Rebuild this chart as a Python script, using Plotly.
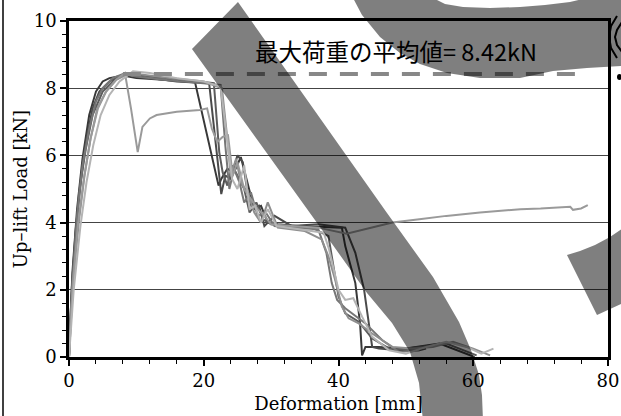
import plotly.graph_objects as go

# ---------------- data ----------------
x_s1 = [0, 0.5, 1.2, 2, 3, 4, 5, 6, 8, 10, 14, 18, 18.7, 22.2, 22.6, 23.5, 24.5, 25.5, 26.5, 27.5, 28.5, 29.5, 31, 34, 37, 40.5, 41, 42.5, 43.2, 43.4, 43.5, 44, 46, 50, 55, 60.2]
y_s1 = [0, 2.5, 4.4, 5.9, 7.2, 7.9, 8.2, 8.3, 8.38, 8.3, 8.25, 8.2, 8.18, 5.1, 5.3, 5.6, 5.5, 5.95, 5.2, 4.4, 4.5, 4.0, 3.95, 3.9, 3.88, 3.85, 3.3, 2.2, 1.0, 0.1, 0.05, 0.3, 0.3, 0.25, 0.4, 0.0]

x_s2 = [0, 0.4, 1, 1.8, 2.5, 3.5, 4.5, 6, 7.5, 9, 12, 16, 20.8, 22.6, 23.2, 24, 25, 25.8, 26.5, 27.2, 28.2, 29, 30.5, 33, 37, 41, 42.5, 43.8, 44.5, 45, 46, 49, 52, 53]
y_s2 = [0, 2, 3.8, 5.3, 6.4, 7.4, 7.9, 8.2, 8.35, 8.4, 8.3, 8.2, 8.15, 4.85, 5.4, 5.3, 6.0, 5.8, 4.9, 4.4, 4.5, 3.9, 4.2, 3.9, 3.95, 3.85, 3.1, 2.0, 1.0, 0.3, 0.25, 0.2, 0.2, 0.25]

x_s3 = [0, 0.3, 1, 1.5, 2.5, 3.5, 5, 7, 9, 12, 17, 21.5, 22.3, 22.8, 23.5, 24.2, 25, 26, 26.8, 27.8, 28.8, 30, 32, 36, 38.5, 39.2, 40, 41, 43, 45, 48, 52, 56, 60.5]
y_s3 = [0, 1.5, 3.6, 4.9, 6.2, 7.2, 7.9, 8.3, 8.45, 8.35, 8.25, 8.15, 6.1, 5.5, 5.1, 5.7, 5.4, 5.0, 4.3, 4.6, 4.1, 3.95, 3.9, 3.85, 3.6, 2.8, 1.8, 1.3, 1.05, 0.55, 0.2, 0.3, 0.4, 0.05]

x_s4 = [0, 0.5, 1.2, 2, 3, 4, 5, 6.5, 8, 10, 14, 19, 22.5, 23.2, 23.8, 24.5, 25.3, 26, 27, 28, 29.2, 30.5, 33, 37, 38.2, 39, 39.8, 41, 42, 44, 46.5, 49, 52]
y_s4 = [0, 2.2, 4.2, 5.7, 6.8, 7.6, 8.0, 8.3, 8.42, 8.35, 8.25, 8.15, 8.1, 6.3, 5.0, 5.6, 5.2, 4.6, 4.9, 4.2, 4.3, 3.9, 3.85, 3.8, 3.1, 2.2, 1.7, 1.45, 1.3, 1.0, 0.5, 0.15, 0.2]

x_s5 = [0, 0.6, 1.5, 2.3, 3.2, 4.2, 5.5, 7, 9, 11, 15, 20, 22.7, 23.5, 24, 24.8, 25.5, 26.5, 27.5, 28.5, 29.5, 31, 35, 37.5, 38.5, 39.5, 40.5, 41.5, 43, 45, 48, 51, 54, 57, 60, 62.5]
y_s5 = [0, 2.3, 4.1, 5.4, 6.5, 7.4, 7.9, 8.25, 8.45, 8.4, 8.3, 8.2, 8.0, 6.5, 5.4, 5.9, 5.2, 4.9, 4.3, 4.0, 4.6, 3.85, 3.75, 3.5, 3.0, 2.3, 1.5, 1.15, 1.0, 0.7, 0.3, 0.25, 0.3, 0.45, 0.25, 0.05]

x_s6 = [0, 0.5, 1.3, 2.2, 3.2, 4.3, 5.5, 7, 8.3, 9.2, 10.2, 10.9, 12, 13, 16, 19.4, 20.5, 21.2, 22, 22.8, 23.6, 24.3, 25, 26, 27, 28, 29, 30, 33, 37, 41.2, 44, 48, 52, 56, 61, 64, 67, 70, 72, 74.4, 74.8, 76, 77]
y_s6 = [0, 1.9, 3.9, 5.3, 6.5, 7.4, 7.9, 8.25, 8.45, 7.4, 6.1, 6.85, 7.1, 7.2, 7.3, 7.35, 7.4, 6.8, 6.4, 6.55, 6.6, 5.4, 5.8, 5.0, 4.7, 4.4, 4.2, 3.95, 3.9, 3.85, 3.67, 3.8, 4.0, 4.1, 4.2, 4.3, 4.35, 4.4, 4.42, 4.45, 4.47, 4.38, 4.42, 4.52]

x_s7 = [0, 0.7, 1.7, 2.6, 3.6, 4.7, 6, 7.5, 9.5, 12, 16, 20, 22.5, 23.4, 24.2, 25, 26, 26.8, 27.6, 28.5, 29.5, 30.8, 34, 37.8, 38.6, 39.3, 40, 41, 42.2, 43.5, 45, 47.5, 50, 53, 56, 59, 61.2, 63]
y_s7 = [0, 2.0, 3.9, 5.2, 6.3, 7.2, 7.8, 8.2, 8.5, 8.45, 8.3, 8.2, 8.05, 6.6, 5.3, 5.0, 5.7, 4.4, 4.5, 4.0, 4.4, 3.9, 3.8, 3.7, 3.2, 2.6, 2.0, 1.7, 1.75, 1.2, 0.6, 0.2, 0.1, 0.3, 0.45, 0.3, 0.1, 0.25]

series_x = [x_s1, x_s2, x_s3, x_s4, x_s5, x_s6, x_s7]
series_y = [y_s1, y_s2, y_s3, y_s4, y_s5, y_s6, y_s7]
series_colors = ["#383838", "#4a4a4a", "#5c5c5c", "#767676", "#8e8e8e", "#9a9a9a", "#b4b4b4"]

avg_x = [8, 75.5]
avg_value = 8.42
avg_label = "最大荷重の平均値= 8.42kN"

x_ticks = [0, 20, 40, 60, 80]
y_ticks = [0, 2, 4, 6, 8, 10]

# ---------------- figure ----------------
W, H = 621, 416
ML, MR, MT, MB = 69, 13, 21, 59
PW, PH = W - ML - MR, H - MT - MB


def pp(px, py):
    return ((px - ML) / PW, (H - MB - py) / PH)


def path_from(points, close=True):
    s = ""
    for i, (px, py) in enumerate(points):
        x, y = pp(px, py)
        s += ("M" if i == 0 else "L") + f" {x:.4f},{y:.4f} "
    return s + ("Z" if close else "")


fig = go.Figure()

for xs, ys, c in zip(series_x, series_y, series_colors):
    fig.add_trace(go.Scatter(x=xs, y=ys, mode="lines",
                             line=dict(color=c, width=2), showlegend=False,
                             hoverinfo="skip"))

fig.add_trace(go.Scatter(x=avg_x, y=[avg_value] * len(avg_x), mode="lines",
                         line=dict(color="#888888", width=4, dash="18px,13px"),
                         showlegend=False, hoverinfo="skip"))

ax, ay = pp(253, 51)
fig.add_annotation(x=ax, y=ay, xref="paper", yref="paper", text=avg_label,
                   showarrow=False, xanchor="left", yanchor="middle",
                   font=dict(family="Noto Sans CJK JP", size=23.5, color="black"))

# occluding bands
band_main = [(238, 2), (192, 49), (320, 227), (367, 293), (392, 323), (410, 352),
             (419, 383), (423, 421), (483, 421), (482, 395), (479, 375), (471, 350),
             (459, 322), (433, 277), (387, 213), (238, 2)]
band_top = [(353, -2), (362, 15), (380, 37), (400, 53), (420, 64), (447, 73),
            (480, 78), (520, 78), (553, 71), (587, 68), (623, 66), (623, -2),
            (587, -2), (570, 2), (545, 5), (520, 7), (490, 8), (463, 7), (445, 4), (433, -2)]
band_right = [(567, 255), (580, 251), (595, 245), (610, 237), (623, 228),
              (623, 303), (597, 315)]

shapes = []
for poly in (band_main, band_top, band_right):
    shapes.append(dict(type="path", xref="paper", yref="paper", path=path_from(poly),
                       fillcolor="black", opacity=0.5, line=dict(width=0), layer="above"))

for arc in ([(617, 16), (611, 26), (609, 37), (611, 48), (617, 58)],
            [(622, 22), (617, 30), (615, 37), (617, 45), (622, 52)]):
    shapes.append(dict(type="path", xref="paper", yref="paper", path=path_from(arc, close=False),
                       line=dict(color="black", width=2), fillcolor="rgba(0,0,0,0)", layer="above"))

cx2, cy2 = pp(622, 80)
cx0, cy0 = pp(617, 74)
shapes.append(dict(type="circle", xref="paper", yref="paper", x0=cx0, y0=cy2, x1=cx2, y1=cy0,
                   fillcolor="black", line=dict(width=0), layer="above"))

lx, ly0 = pp(3, 0)
_, ly1 = pp(3, 416)
shapes.append(dict(type="line", xref="paper", yref="paper", x0=lx, x1=lx, y0=ly0, y1=ly1,
                   line=dict(color="black", width=1.5), layer="above"))

fig.update_layout(shapes=shapes)

tick_font = dict(family="DejaVu Serif", size=18, color="black")
fig.update_xaxes(range=[0, 80], tickvals=x_ticks, ticktext=[str(v) for v in x_ticks],
                 ticks="outside", ticklen=6, tickwidth=1.5, tickcolor="black",
                 minor=dict(dtick=4, tick0=0, ticks="outside", ticklen=4, tickwidth=1.2,
                            tickcolor="black", showgrid=False),
                 showline=True, mirror=True, linewidth=2.5, linecolor="black",
                 showgrid=False, zeroline=False, tickfont=tick_font, automargin=False,
                 title=dict(text="Deformation [mm]", standoff=8,
                            font=dict(family="DejaVu Serif", size=18, color="black")))
fig.update_yaxes(range=[0, 10], tickvals=y_ticks, ticktext=[str(v) for v in y_ticks],
                 ticks="outside", ticklen=6, tickwidth=1.5, tickcolor="black",
                 minor=dict(dtick=0.4, tick0=0, ticks="outside", ticklen=4, tickwidth=1.2,
                            tickcolor="black", showgrid=False),
                 showline=True, mirror=True, linewidth=2.5, linecolor="black",
                 showgrid=True, gridcolor="#444444", gridwidth=1, zeroline=False,
                 tickfont=tick_font, automargin=False,
                 title=dict(text="Up–lift Load [kN]", standoff=2,
                            font=dict(family="DejaVu Serif", size=18, color="black")))

fig.update_layout(width=W, height=H, margin=dict(l=ML, r=MR, t=MT, b=MB, autoexpand=False),
                  paper_bgcolor="white", plot_bgcolor="white", showlegend=False)

fig.write_html("out.html", config={"displayModeBar": False},
               post_script="document.body.style.margin='0';document.body.style.overflow='hidden';")
